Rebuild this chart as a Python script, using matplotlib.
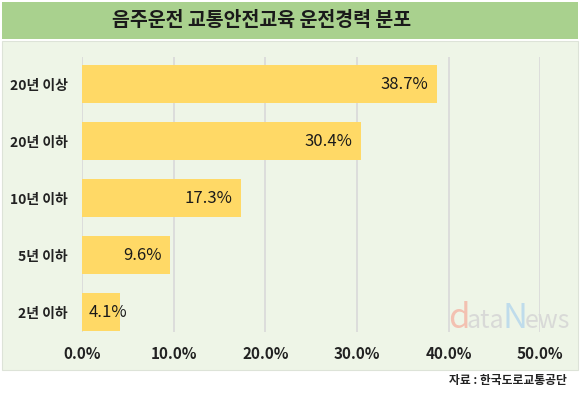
import matplotlib.pyplot as plt
from matplotlib.patches import Rectangle

plt.rcParams['font.family'] = ['Noto Sans CJK KR', 'DejaVu Sans']

categories = ['20년 이상', '20년 이하', '10년 이하', '5년 이하', '2년 이하']
values = [38.7, 30.4, 17.3, 9.6, 4.1]
xticks = [0, 10, 20, 30, 40, 50]
title = '음주운전 교통안전교육 운전경력 분포'
source = '자료 : 한국도로교통공단'

fig = plt.figure(figsize=(5.8, 3.94), dpi=100)
fig.patch.set_facecolor('white')

# title band and panel background
fig.patches.append(Rectangle((0.003, 0.9), 0.994, 0.095, transform=fig.transFigure,
                             facecolor='#A9D18E', edgecolor='none', zorder=-10))
fig.patches.append(Rectangle((0.003, 0.06), 0.994, 0.835, transform=fig.transFigure,
                             facecolor='#EEF5E7', edgecolor='#DDE3D8', lw=0.8, zorder=-10))
fig.text(0.451, 0.947, title, ha='center', va='center', fontsize=14, fontweight='bold',
         color='#1a1a1a')

# watermark (behind the axes)
wm = [('d', '#F4B8A8', 25), ('ata', '#D5D5D5', 18), ('N', '#B7D8EC', 25), ('ews', '#D5D5D5', 18)]
x0 = 0.772
fig.canvas.draw()
r = fig.canvas.get_renderer()
for txt, col, fs in wm:
    t = fig.text(x0, 0.168, txt, color=col, fontsize=fs, ha='left', va='baseline',
                 alpha=0.85, zorder=-5)
    bb = t.get_window_extent(renderer=r)
    x0 += (bb.width - 2.5) / fig.bbox.width

ax = fig.add_axes([0.1414, 0.157, 0.79, 0.698])
ax.set_facecolor('none')
pos = list(range(len(categories) - 1, -1, -1))
ax.barh(pos, values, height=0.667, color='#FFD966', zorder=2)
for p, v in zip(pos, values):
    if v < 6:
        ax.text(0.7, p, f'{v}%', ha='left', va='center', fontsize=12, color='#1a1a1a', zorder=3)
    else:
        ax.text(v - 0.9, p, f'{v}%', ha='right', va='center', fontsize=12, color='#1a1a1a', zorder=3)

ax.set_xlim(0, 50)
ax.set_ylim(-0.35, 4.474)
ax.set_xticks(xticks)
ax.set_xticklabels([f'{t:.1f}%' for t in xticks], fontsize=11, fontweight='bold', color='#222222')
ax.set_yticks(pos)
ax.set_yticklabels(categories, fontsize=10, fontweight='bold', color='#222222')
ax.tick_params(length=0, pad=10)
ax.tick_params(axis='y', pad=10)
ax.grid(axis='x', color='#D9D9D9', lw=1.2, zorder=1)
for s in ax.spines.values():
    s.set_visible(False)

fig.text(0.977, 0.033, source, ha='right', va='center', fontsize=8.5, fontweight='bold',
         color='#222222')

fig.savefig('out.png', dpi=100)
